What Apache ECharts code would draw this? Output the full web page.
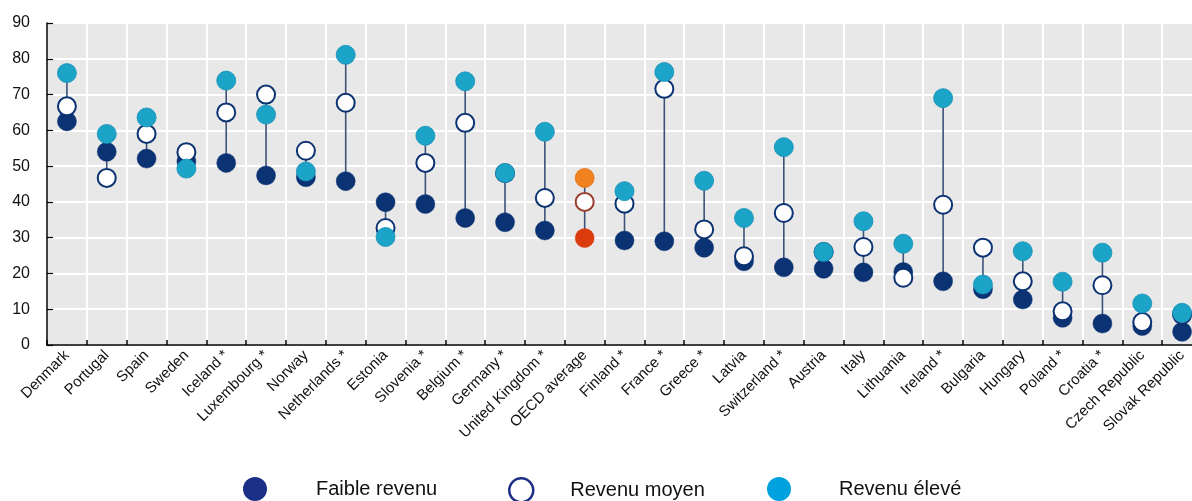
<!DOCTYPE html>
<html>
<head>
<meta charset="utf-8">
<script src="https://cdn.jsdelivr.net/npm/echarts@6/dist/echarts.min.js"></script>
<style>
  html, body { margin: 0; padding: 0; background: #ffffff; overflow: hidden; }
  #chart { width: 1192px; height: 501px; }
</style>
</head>
<body>
<div id="chart"></div>
<script>
const categories = ['Denmark','Portugal','Spain','Sweden','Iceland *','Luxembourg *','Norway','Netherlands *','Estonia','Slovenia *','Belgium *','Germany *','United Kingdom *','OECD average','Finland *','France *','Greece *','Latvia','Switzerland *','Austria','Italy','Lithuania','Ireland *','Bulgaria','Hungary','Poland *','Croatia *','Czech Republic','Slovak Republic'];
const lowIncome  = [62.5,54.0,52.1,51.3,50.9,47.4,46.9,45.8,39.9,39.4,35.5,34.3,32.0,29.9,29.2,29.0,27.2,23.4,21.7,21.3,20.3,20.4,17.8,15.6,12.7,7.6,6.0,5.3,3.7];
const midIncome  = [66.7,46.7,59.0,53.9,65.0,70.0,54.3,67.7,32.7,50.9,62.1,48.0,41.1,40.0,39.5,71.6,32.3,24.8,36.9,26.0,27.4,18.8,39.2,27.2,17.8,9.4,16.7,6.4,8.5];
const highIncome = [76.0,59.0,63.6,49.3,73.9,64.4,48.5,81.1,30.2,58.5,73.7,48.1,59.6,46.7,43.0,76.3,45.9,35.5,55.3,26.0,34.6,28.3,69.0,16.9,26.2,17.7,25.8,11.6,9.0];
const yTicks = [0,10,20,30,40,50,60,70,80,90];
const seriesNames = ['Faible revenu','Revenu moyen','Revenu élevé'];

const DARK = '#0b3272';
const TEAL = '#1ca3c8';
const OECD = 'OECD average';

const chart = echarts.init(document.getElementById('chart'));

const rangeData = categories.map((c, i) => [
  i,
  Math.min(lowIncome[i], midIncome[i], highIncome[i]),
  Math.max(lowIncome[i], midIncome[i], highIncome[i])
]);

const lowData = lowIncome.map((v, i) => categories[i] === OECD
  ? { value: v, itemStyle: { color: '#dc3b0d', borderColor: '#dc3b0d' } } : v);
const midData = midIncome.map((v, i) => categories[i] === OECD
  ? { value: v, itemStyle: { color: '#ffffff', borderColor: '#9a3e2e' } } : v);
const highData = highIncome.map((v, i) => categories[i] === OECD
  ? { value: v, itemStyle: { color: '#f0821f', borderColor: '#e0741a' } } : v);

const legendBase = {
  orient: 'horizontal',
  top: 472,
  itemWidth: 24,
  itemHeight: 24,
  icon: 'circle',
  selectedMode: false,
  textStyle: { fontFamily: 'Liberation Sans, Arial, sans-serif', fontSize: 20, color: '#111' }
};

const option = {
  animation: false,
  backgroundColor: '#ffffff',
  grid: {
    left: 47, right: -10, top: 23, bottom: 156,
    outerBoundsMode: 'none',
    containLabel: false,
    show: true, backgroundColor: '#e8e8e8', borderWidth: 0
  },
  legend: [
    Object.assign({}, legendBase, {
      left: 238,
      data: [{ name: seriesNames[0], itemStyle: { color: '#1b2f86', borderWidth: 0 } }],
      textStyle: Object.assign({}, legendBase.textStyle, { padding: [0, 0, 0, 44] })
    }),
    Object.assign({}, legendBase, {
      left: 503,
      data: [{ name: seriesNames[1], itemStyle: { color: '#ffffff', borderColor: '#1b2f86', borderWidth: 2.5 } }],
      textStyle: Object.assign({}, legendBase.textStyle, { padding: [0, 0, 0, 32] })
    }),
    Object.assign({}, legendBase, {
      left: 762,
      data: [{ name: seriesNames[2], itemStyle: { color: '#00a1df', borderWidth: 0 } }],
      textStyle: Object.assign({}, legendBase.textStyle, { padding: [0, 0, 0, 43] })
    })
  ],
  xAxis: {
    type: 'category',
    data: categories,
    boundaryGap: true,
    axisLine: { show: true, lineStyle: { color: '#000', width: 1.5 } },
    axisTick: { show: true, inside: true, length: 5, lineStyle: { color: '#000', width: 1.5 } },
    splitLine: { show: true, lineStyle: { color: '#ffffff', width: 2 } },
    axisLabel: {
      interval: 0,
      rotate: 45,
      margin: 8,
      fontFamily: 'Liberation Sans, Arial, sans-serif',
      fontSize: 15,
      color: '#111'
    }
  },
  yAxis: {
    type: 'value',
    min: 0, max: 90, interval: 10,
    axisLine: { show: true, lineStyle: { color: '#000', width: 1.5 } },
    axisTick: { show: true, inside: true, length: 6, lineStyle: { color: '#000', width: 1.2 } },
    splitLine: { show: true, lineStyle: { color: '#ffffff', width: 2 } },
    axisLabel: {
      margin: 17,
      fontFamily: 'Liberation Sans, Arial, sans-serif',
      fontSize: 16,
      color: '#111',
      formatter: v => yTicks.includes(v) ? String(v) : ''
    }
  },
  series: [
    {
      type: 'custom',
      name: 'range',
      z: 1,
      encode: { x: 0, y: [1, 2] },
      data: rangeData,
      renderItem: function (params, api) {
        const i = api.value(0);
        const p1 = api.coord([i, api.value(1)]);
        const p2 = api.coord([i, api.value(2)]);
        return {
          type: 'line',
          shape: { x1: p1[0], y1: p1[1], x2: p2[0], y2: p2[1] },
          style: { stroke: '#3e5278', lineWidth: 1.6 }
        };
      },
      silent: true
    },
    {
      type: 'scatter',
      name: seriesNames[0],
      z: 2,
      symbol: 'circle',
      symbolSize: 19,
      itemStyle: { color: DARK, borderColor: DARK, borderWidth: 0.5, opacity: 1 },
      data: lowData
    },
    {
      type: 'scatter',
      name: seriesNames[1],
      z: 3,
      symbol: 'circle',
      symbolSize: 18,
      itemStyle: { color: '#ffffff', borderColor: DARK, borderWidth: 2, opacity: 1 },
      data: midData
    },
    {
      type: 'scatter',
      name: seriesNames[2],
      z: 4,
      symbol: 'circle',
      symbolSize: 19,
      itemStyle: { color: TEAL, borderColor: '#1790b6', borderWidth: 0.8, opacity: 1 },
      data: highData
    }
  ]
};

chart.setOption(option);
</script>
</body>
</html>
